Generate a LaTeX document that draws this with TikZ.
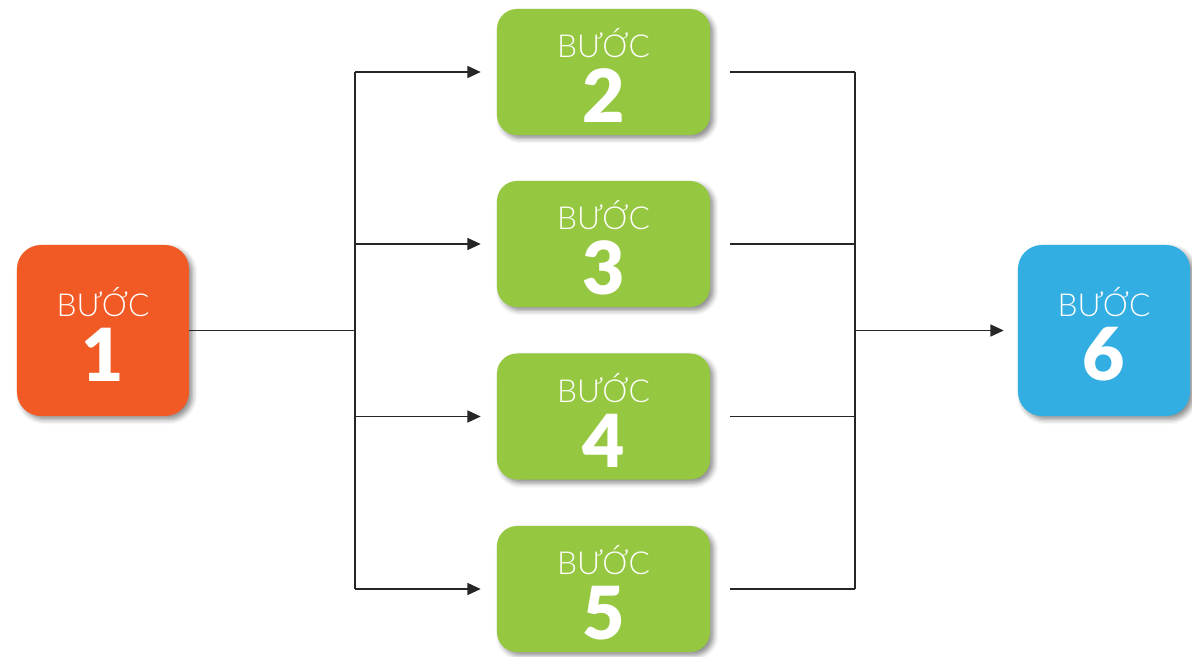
\documentclass[tikz,border=0pt]{standalone}
\usepackage{fontspec}
\setmainfont{Lato}
\newfontfamily\steplight{Lato Light}
\newfontfamily\stepheavy{Lato Black}
\usetikzlibrary{arrows.meta,shadows.blur}

\definecolor{stepone}{HTML}{F15A24}
\definecolor{stepmid}{HTML}{95C840}
\definecolor{steplast}{HTML}{32AEE3}

\tikzset{
    stepbox/.style={rounded corners=0.6cm, inner sep=0pt,
        blur shadow={shadow xshift=2.5pt, shadow yshift=-2.5pt, shadow blur radius=3.5pt, shadow opacity=45}},
    endbox/.style={stepbox, minimum width=4.3cm, minimum height=4.275cm},
    midbox/.style={stepbox, fill=stepmid, rounded corners=0.5cm, minimum width=5.325cm, minimum height=3.15cm},
    steptext/.style={text=white, font=\steplight\fontsize{22.5}{22.5}\selectfont, inner sep=0pt},
    stepnum/.style={text=white, font=\stepheavy\fontsize{52}{52}\selectfont, inner sep=0pt},
    link/.style={line width=0.9pt, black!85},
    arr/.style={link, -{Triangle[length=0.33cm,width=0.3cm]}}
}

\begin{document}
\begin{tikzpicture}[x=0.025cm,y=-0.025cm]
    \useasboundingbox (0,0) rectangle (1192,657);

    % outer steps
    \node[endbox, fill=stepone] (b1) at (103,330.5) {};
    \node[endbox, fill=steplast] (b6) at (1104,330.5) {};

    % middle steps
    \foreach \n/\y in {2/72,3/244,4/416.5,5/589}{
        \node[midbox] (b\n) at (603.5,\y) {};
    }

    % labels
    \foreach \n in {1,...,6}{
        \node[steptext] (t\n) at ([yshift=0.72cm]b\n.center) {BƯỚC};
        \node[stepnum] (n\n) at ([yshift=-0.6cm]b\n.center) {\n};
    }

    \coordinate (split) at (355,330.5);
    \coordinate (merge) at (855,330.5);

    % connectors
    \draw[link] (b1.east) -- (split);
    \draw[link] (split |- b2) -- (split |- b5);
    \draw[link] (merge |- b2) -- (merge |- b5);
    \foreach \n in {2,...,5}{
        \draw[arr] (split |- b\n) -- ([xshift=-0.4cm]b\n.west);
        \draw[link] ([xshift=0.5cm]b\n.east) -- (merge |- b\n);
    }
    \draw[arr] (merge) -- ([xshift=-0.35cm]b6.west);
\end{tikzpicture}
\end{document}
